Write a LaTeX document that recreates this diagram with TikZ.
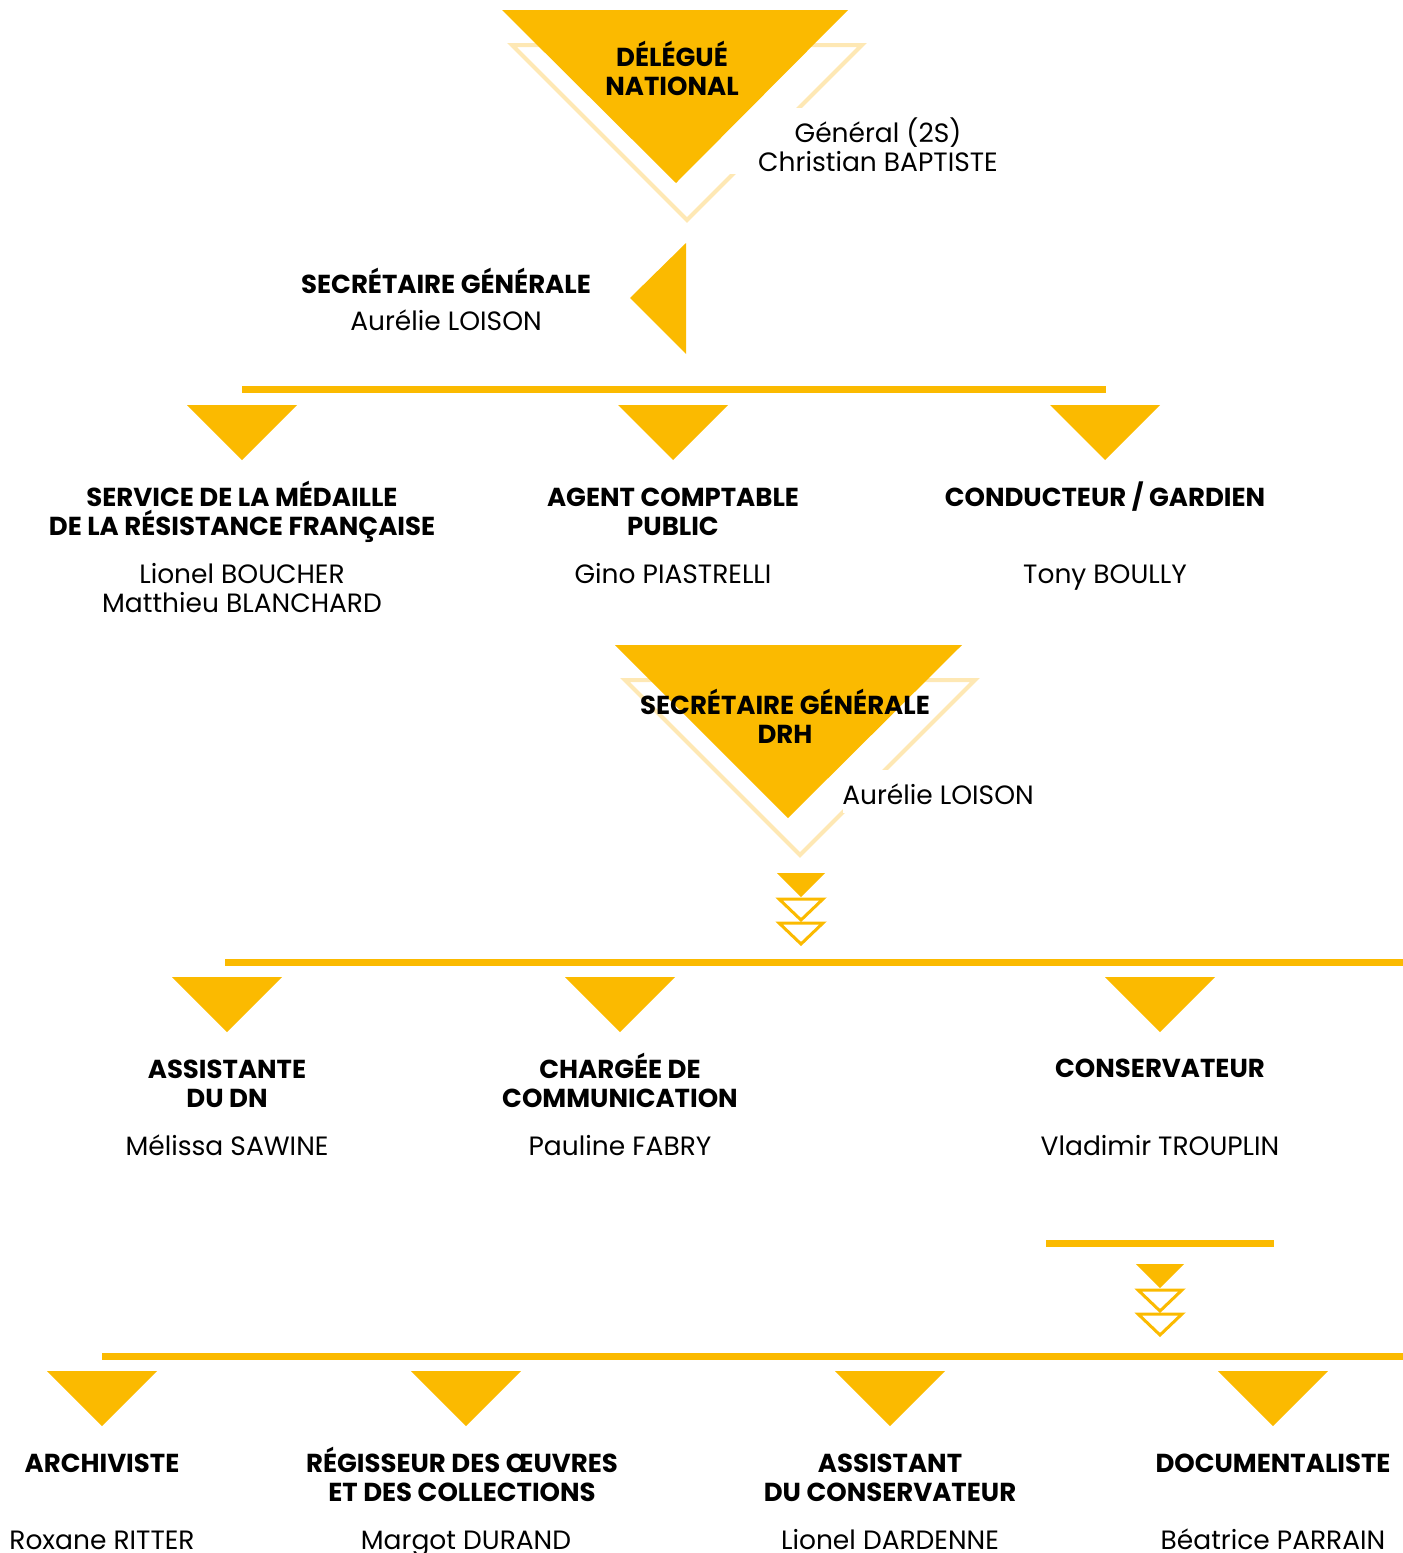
\documentclass[tikz,border=0pt]{standalone}
\usepackage{fontspec}
\setmainfont{Poppins}
\usetikzlibrary{positioning}
\definecolor{DNYellow}{RGB}{251,186,0}
\definecolor{DNPale}{RGB}{254,232,180}
\newcommand{\rolesize}{\fontsize{26}{29}\selectfont}
\newcommand{\namesize}{\fontsize{26.5}{29}\selectfont}

\begin{document}
\begin{tikzpicture}[x=1pt,y=-1pt,
    tri/.style={fill=DNYellow},
    ghost/.style={draw=DNPale,line width=4pt},
    chev/.style={draw=DNYellow,fill=white,line width=3pt},
    bar/.style={draw=DNYellow,line width=7pt},
    role/.style={font=\bfseries\rolesize,align=center,inner sep=0pt,anchor=base},
    person/.style={font=\namesize,align=center,inner sep=0pt,anchor=base}]
  \useasboundingbox (0,0) rectangle (1403,1553);

  % Delegue national
  \draw[ghost] (512,45) -- (862,45) -- (687,220) -- cycle;
  \fill[white] (728,108) rectangle (1004,174);
  \fill[tri] (502,10) -- (848,10) -- (676,183) -- cycle;
  \node[role] (dn) at (672,95) {DÉLÉGUÉ\\NATIONAL};
  \node[person] (dnname) at (878,171) {Général (2S)\\Christian BAPTISTE};

  % Secretaire generale
  \fill[tri] (686,243) -- (686,354) -- (630,298) -- cycle;
  \node[role] (sg) at (446,293) {SECRÉTAIRE GÉNÉRALE};
  \node[person] (sgname) at (446,330) {Aurélie LOISON};

  % first level
  \draw[bar] (242,389) -- (1106,389);
  \foreach \x in {242,673,1105}
    \fill[tri] (\x-55,405) -- (\x+55,405) -- (\x,460) -- cycle;
  \node[role] (smrf) at (242,535) {SERVICE DE LA MÉDAILLE\\DE LA RÉSISTANCE FRANÇAISE};
  \node[person] (smrfname) at (242,612) {Lionel BOUCHER\\Matthieu BLANCHARD};
  \node[role] (acp) at (673,535) {AGENT COMPTABLE\\PUBLIC};
  \node[person] (acpname) at (673,583) {Gino PIASTRELLI};
  \node[role] (cond) at (1105,506) {CONDUCTEUR / GARDIEN};
  \node[person] (condname) at (1105,583) {Tony BOULLY};

  % DRH
  \draw[ghost] (625,680) -- (975,680) -- (800,855) -- cycle;
  \fill[white] (843,770) rectangle (1038,813);
  \fill[tri] (615,645) -- (962,645) -- (788,818) -- cycle;
  \node[role] (drh) at (785,743) {SECRÉTAIRE GÉNÉRALE\\DRH};
  \node[person] (drhname) at (938,804) {Aurélie LOISON};
  \fill[tri] (777,873) -- (825,873) -- (801,897) -- cycle;
  \draw[chev] (779,899) -- (823,899) -- (801,920) -- cycle;
  \draw[chev] (779,923) -- (823,923) -- (801,944) -- cycle;

  % second level
  \draw[bar] (225,962) -- (1403,962);
  \foreach \x in {227,620,1160}
    \fill[tri] (\x-55,977) -- (\x+55,977) -- (\x,1032) -- cycle;
  \node[role] (adn) at (227,1107) {ASSISTANTE\\DU DN};
  \node[person] (adnname) at (227,1155) {Mélissa SAWINE};
  \node[role] (com) at (620,1107) {CHARGÉE DE\\COMMUNICATION};
  \node[person] (comname) at (620,1155) {Pauline FABRY};
  \node[role] (cons) at (1160,1077) {CONSERVATEUR};
  \node[person] (consname) at (1160,1155) {Vladimir TROUPLIN};

  % conservation
  \draw[bar] (1046,1243) -- (1274,1243);
  \fill[tri] (1136,1264) -- (1184,1264) -- (1160,1288) -- cycle;
  \draw[chev] (1138,1290) -- (1182,1290) -- (1160,1311) -- cycle;
  \draw[chev] (1138,1314) -- (1182,1314) -- (1160,1335) -- cycle;

  % third level
  \draw[bar] (102,1356) -- (1403,1356);
  \foreach \x in {102,466,890,1273}
    \fill[tri] (\x-55,1371) -- (\x+55,1371) -- (\x,1426) -- cycle;
  \node[role] (arc) at (102,1472) {ARCHIVISTE};
  \node[person] (arcname) at (102,1549) {Roxane RITTER};
  \node[role] (reg) at (462,1501) {RÉGISSEUR DES ŒUVRES\\ET DES COLLECTIONS};
  \node[person] (regname) at (466,1549) {Margot DURAND};
  \node[role] (acons) at (890,1501) {ASSISTANT\\DU CONSERVATEUR};
  \node[person] (aconsname) at (890,1549) {Lionel DARDENNE};
  \node[role] (doc) at (1273,1472) {DOCUMENTALISTE};
  \node[person] (docname) at (1273,1549) {Béatrice PARRAIN};
\end{tikzpicture}
\end{document}
